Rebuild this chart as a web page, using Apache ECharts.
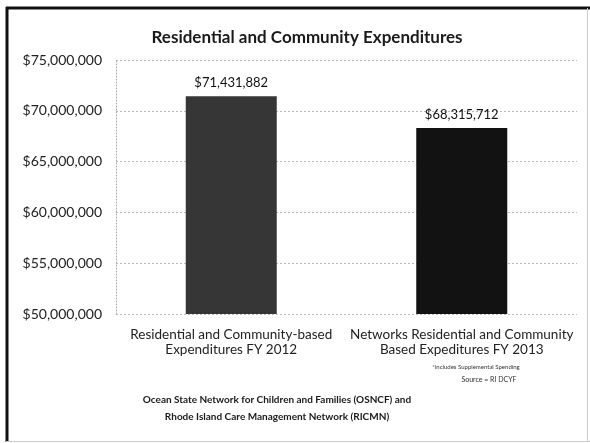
<!DOCTYPE html>
<html>
<head>
<meta charset="utf-8">
<script src="https://cdn.jsdelivr.net/npm/echarts@6/dist/echarts.min.js"></script>
<style>
html,body{margin:0;padding:0;background:#fff;}
#c{width:590px;height:443px;}
</style>
</head>
<body>
<div id="c"></div>
<script>
var chartTitle = 'Residential and Community Expenditures';
var categories = ['Residential and Community-based\nExpenditures FY 2012', 'Networks Residential and Community\nBased Expeditures FY 2013'];
var values = [71431882, 68315712];
var barColors = ['#363636', '#121212'];
var yMin = 50000000, yMax = 75000000, yStep = 5000000;
var footnote = '*includes Supplemental Spending';
var source = 'Source = RI DCYF';
var bottomText = ['Ocean State Network for Children and Families (OSNCF) and', 'Rhode Island Care Management Network (RICMN)'];

function money(v){ return '$' + Math.round(v).toString().replace(/\B(?=(\d{3})+(?!\d))/g, ','); }

var FONT = 'Lato, "Noto Sans", sans-serif';
var chart = echarts.init(document.getElementById('c'), null, {renderer:'canvas'});
chart.setOption({
  animation: false,
  backgroundColor: '#fff',
  title: {
    text: chartTitle, left: 302, top: 24, textAlign: 'center',
    textStyle: {fontFamily: FONT, fontSize: 17, fontWeight: 'bold', color: '#1a1a1a'}
  },
  grid: {left: 116, right: 13, top: 60, bottom: 129, containLabel: false},
  xAxis: {
    type: 'category', data: categories,
    axisLine: {show: false}, axisTick: {show: false},
    axisLabel: {fontFamily: FONT, fontSize: 13.5, color: '#222', lineHeight: 15, margin: 13, interval: 0}
  },
  yAxis: {
    type: 'value', min: yMin, max: yMax, interval: yStep,
    axisLine: {show: true, lineStyle: {color: '#aaa', type: [1, 2], width: 1}},
    axisTick: {show: false},
    axisLabel: {fontFamily: FONT, fontSize: 14, color: '#222', margin: 14, formatter: money},
    splitLine: {lineStyle: {color: '#b8b8b8', type: [2, 2], width: 1}}
  },
  series: [{
    type: 'bar', barWidth: 91,
    data: values.map(function(v, i){ return {value: v, itemStyle: {color: barColors[i]}}; }),
    label: {show: true, position: 'top', distance: 7, fontFamily: FONT, fontSize: 13, color: '#111', formatter: function(p){ return money(p.value); }}
  }],
  graphic: [
    {type: 'line', shape: {x1: 7, y1: 7, x2: 7, y2: 442}, style: {stroke: '#111', lineWidth: 3}},
    {type: 'line', shape: {x1: 6, y1: 8, x2: 590, y2: 8}, style: {stroke: '#111', lineWidth: 3}},
    {type: 'line', shape: {x1: 587.5, y1: 8, x2: 587.5, y2: 442}, style: {stroke: '#ccc', lineWidth: 1}},
    {type: 'line', shape: {x1: 6, y1: 441.5, x2: 590, y2: 441.5}, style: {stroke: '#ccc', lineWidth: 1}},
    {type: 'text', x: 476, y: 367, style: {text: footnote, textAlign: 'center', textVerticalAlign: 'middle', font: '6px ' + FONT, fill: '#333'}},
    {type: 'text', x: 489, y: 380, style: {text: source, textAlign: 'center', textVerticalAlign: 'middle', font: '7px ' + FONT, fill: '#333'}},
    {type: 'text', x: 277, y: 400, style: {text: bottomText[0], textAlign: 'center', textVerticalAlign: 'middle', font: 'bold 10px ' + FONT, fill: '#1a1a1a'}},
    {type: 'text', x: 277, y: 417, style: {text: bottomText[1], textAlign: 'center', textVerticalAlign: 'middle', font: 'bold 10px ' + FONT, fill: '#1a1a1a'}}
  ]
});
</script>
</body>
</html>
